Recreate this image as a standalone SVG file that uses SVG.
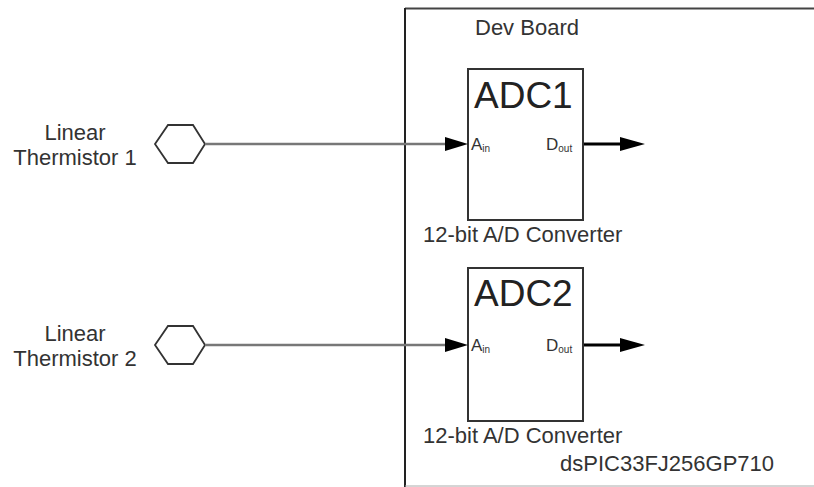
<svg xmlns="http://www.w3.org/2000/svg" width="814" height="487" viewBox="0 0 814 487">
<style>
text{font-family:"Liberation Sans",Arial,sans-serif;fill:#333}
.lbl{font-size:22px}
.big{font-size:37px;fill:#222}
.pin{font-size:17px}
.sub{font-size:10px}
.box{fill:#fff;stroke:#333;stroke-width:2}
.hex{fill:#fff;stroke:#333;stroke-width:1.8}
.in{stroke:#777;stroke-width:2.5;fill:none}
.out{stroke:#000;stroke-width:3;fill:none}
.head{fill:#000}
</style>
<rect width="814" height="487" fill="#fff"/>
<g id="devboard">
<line x1="405" y1="8.5" x2="814" y2="8.5" stroke="#444" stroke-width="2"/>
<line x1="405" y1="8" x2="405" y2="487" stroke="#222" stroke-width="2"/>
<line x1="405" y1="486" x2="814" y2="486" stroke="#aaa" stroke-width="1"/>
<text class="lbl" x="475" y="35">Dev Board</text>
<text class="lbl" x="560" y="471">dsPIC33FJ256GP710</text>
</g>
<g id="therm1">
<polygon class="hex" points="155,144 168,125 193,125 205,144 193,163 168,163"/>
<text class="lbl" x="75" y="140" text-anchor="middle">Linear</text>
<text class="lbl" x="75" y="165" text-anchor="middle">Thermistor 1</text>
</g>
<g id="therm2">
<polygon class="hex" points="155,345 168,326 193,326 205,345 193,364 168,364"/>
<text class="lbl" x="75" y="341" text-anchor="middle">Linear</text>
<text class="lbl" x="75" y="366" text-anchor="middle">Thermistor 2</text>
</g>
<g id="adc1">
<rect class="box" x="468" y="69" width="115" height="151"/>
<text class="big" x="474" y="108">ADC1</text>
<text class="pin" x="471" y="150">A<tspan class="sub" dy="2">in</tspan></text>
<text class="pin" x="546" y="150">D<tspan class="sub" dy="2">out</tspan></text>
<text class="lbl" x="423" y="242">12-bit A/D Converter</text>
</g>
<g id="adc2">
<rect class="box" x="468" y="268" width="115" height="153"/>
<text class="big" x="474" y="306">ADC2</text>
<text class="pin" x="471" y="351">A<tspan class="sub" dy="2">in</tspan></text>
<text class="pin" x="546" y="351">D<tspan class="sub" dy="2">out</tspan></text>
<text class="lbl" x="423" y="443">12-bit A/D Converter</text>
</g>
<g id="connectors">
<line class="in" x1="205" y1="144" x2="447" y2="144"/>
<polygon class="head" points="445,137 468,144 445,151"/>
<line class="out" x1="584" y1="144" x2="622" y2="144"/>
<polygon class="head" points="620,137 645,144 620,151"/>
<line class="in" x1="205" y1="345" x2="447" y2="345"/>
<polygon class="head" points="445,338 468,345 445,352"/>
<line class="out" x1="584" y1="345" x2="622" y2="345"/>
<polygon class="head" points="620,338 645,345 620,352"/>
</g>
</svg>
